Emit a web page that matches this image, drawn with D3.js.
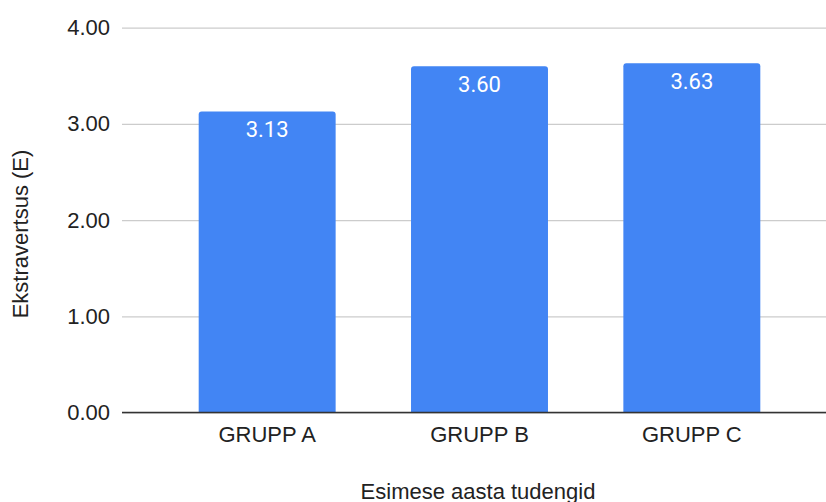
<!DOCTYPE html>
<html>
<head>
<meta charset="utf-8">
<script src="https://cdn.jsdelivr.net/npm/d3@7"></script>
<style>
  body { margin: 0; background: #fff; }
  svg { display: block; }
</style>
</head>
<body>
<div id="chart"></div>
<script>
const groups = ['GRUPP A', 'GRUPP B', 'GRUPP C']
const scores = [3.13, 3.60, 3.63]
const yTicks = [0, 1, 2, 3, 4]

const width = 826
const height = 502

const svg = d3.create('svg')
    .attr('width', width)
    .attr('height', height)
    .attr('viewBox', [0, 0, width, height])

const x = d3.scaleBand()
    .domain(groups)
    .range([161, 798])
    .paddingInner(0.355)
    .paddingOuter(0.1775)

const y = d3.scaleLinear()
    .domain([0, 4])
    .range([412.5, 27.7])

const gridLeft = 122

/* gridlines + tick labels */
const yAxis = svg.append('g')
    .attr('transform', `translate(${gridLeft},0)`)
    .call(d3.axisLeft(y)
        .tickValues(yTicks)
        .tickSize(-(width - gridLeft))
        .tickPadding(12)
        .tickFormat(d3.format('.2f')))

yAxis.select('.domain').remove()
yAxis.selectAll('.tick line')
    .attr('stroke', '#cccccc')
    .attr('stroke-width', 1.3)
yAxis.selectAll('.tick text')
    .attr('fill', '#222')
    .attr('font-family', 'Liberation Sans, Arial, sans-serif')
    .attr('font-size', 22)

/* bars, rounded top corners */
const r = 3
const barPath = d => {
    const x0 = x(d.group), x1 = x0 + x.bandwidth()
    const yt = y(d.value), yb = y(0)
    return `M${x0},${yb}V${yt + r}Q${x0},${yt} ${x0 + r},${yt}H${x1 - r}Q${x1},${yt} ${x1},${yt + r}V${yb}Z`
}

const data = groups.map((g, i) => ({ group: g, value: scores[i] }))

svg.append('g')
    .selectAll('path')
    .data(data)
    .join('path')
    .attr('fill', '#4285f4')
    .attr('d', barPath)

/* value labels */
svg.append('g')
    .selectAll('text')
    .data(data)
    .join('text')
    .attr('x', d => x(d.group) + x.bandwidth() / 2)
    .attr('y', d => y(d.value) + 26)
    .attr('text-anchor', 'middle')
    .attr('fill', '#fff')
    .attr('font-family', 'Roboto, sans-serif')
    .attr('font-size', 22)
    .text(d => d.value.toFixed(2))

/* baseline + category labels */
const xAxis = svg.append('g')
    .attr('transform', `translate(0,${y(0)})`)
    .call(d3.axisBottom(x).tickSize(0).tickPadding(14))

xAxis.select('.domain').remove()
xAxis.selectAll('.tick text')
    .attr('fill', '#222')
    .attr('font-family', 'Liberation Sans, Arial, sans-serif')
    .attr('font-size', 22)

svg.append('line')
    .attr('x1', gridLeft)
    .attr('x2', width)
    .attr('y1', y(0))
    .attr('y2', y(0))
    .attr('stroke', '#333')
    .attr('stroke-width', 1.5)

/* axis titles */
svg.append('text')
    .attr('x', 478)
    .attr('y', 499)
    .attr('text-anchor', 'middle')
    .attr('fill', '#222')
    .attr('font-family', 'Liberation Sans, Arial, sans-serif')
    .attr('font-size', 22)
    .text('Esimese aasta tudengid')

svg.append('text')
    .attr('transform', 'translate(28,234) rotate(-90)')
    .attr('text-anchor', 'middle')
    .attr('fill', '#222')
    .attr('font-family', 'Liberation Sans, Arial, sans-serif')
    .attr('font-size', 22)
    .text('Ekstravertsus (E)')

document.getElementById('chart').appendChild(svg.node())
</script>
</body>
</html>
